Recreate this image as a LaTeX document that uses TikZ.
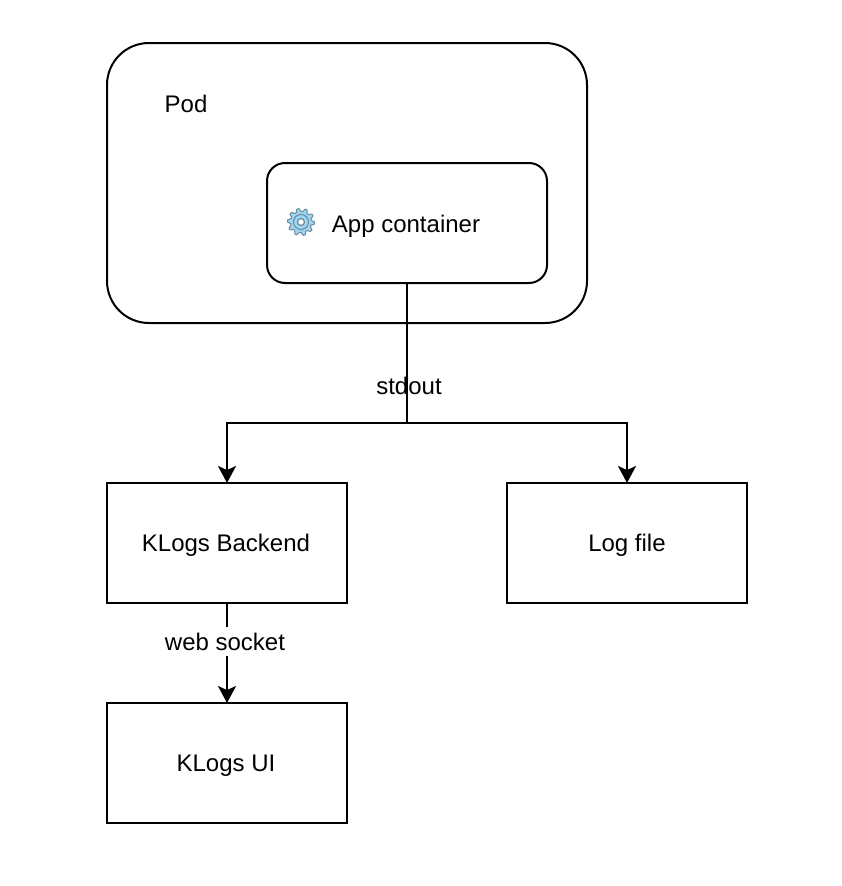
\documentclass[tikz,border=0pt]{standalone}
\usepackage{fontspec}
\setmainfont{Liberation Sans}
\usetikzlibrary{arrows.meta}
\definecolor{gearfill}{HTML}{9BD6F7}
\definecolor{gearline}{HTML}{6F8796}
\tikzset{
  box/.style={draw=black,line width=2pt,minimum width=240pt,minimum height=120pt,inner sep=0pt,outer sep=0pt,text height=17pt,text depth=0pt,font=\fontsize{24pt}{28pt}\selectfont},
  podbox/.style={box,rounded corners=42pt,minimum width=480pt,minimum height=280pt},
  appbox/.style={box,rounded corners=18pt,minimum width=280pt,minimum height=120pt},
  lbl/.style={inner sep=0pt,outer sep=0pt,text height=17pt,text depth=0pt,font=\fontsize{24pt}{28pt}\selectfont},
  conn/.style={draw=black,line width=2pt},
  arr/.style={conn,-{Stealth[length=17pt,width=18pt,inset=4pt]}},
}
\begin{document}
\begin{tikzpicture}[x=1pt,y=-1pt]
\useasboundingbox (0,0) rectangle (842,886);
\node[podbox] (pod) at (347,183) {};
\node[lbl] (podlabel) at (186,103.5) {Pod};
\node[appbox] (app) at (407,223) {};
\node[lbl] (applabel) at (406,223.5) {App container};
\node[box] (backend) at (227,543) {\hspace*{-2pt}KLogs Backend};
\node[box] (logfile) at (627,543) {Log file};
\node[box] (ui) at (227,763) {\hspace*{-2pt}KLogs UI};
\coordinate (split) at (407,423);
\coordinate (gear) at (301,222);
% gear icon
\begin{scope}[shift={(gear)}]
  \draw[draw=gearline,fill=gearfill,line width=1pt,line join=round]
    plot[smooth cycle,tension=0.25] coordinates {
      (0:13.5) (9:13.5) (18:10.5) (27:10.5)
      (36:13.5) (45:13.5) (54:10.5) (63:10.5)
      (72:13.5) (81:13.5) (90:10.5) (99:10.5)
      (108:13.5) (117:13.5) (126:10.5) (135:10.5)
      (144:13.5) (153:13.5) (162:10.5) (171:10.5)
      (180:13.5) (189:13.5) (198:10.5) (207:10.5)
      (216:13.5) (225:13.5) (234:10.5) (243:10.5)
      (252:13.5) (261:13.5) (270:10.5) (279:10.5)
      (288:13.5) (297:13.5) (306:10.5) (315:10.5)
      (324:13.5) (333:13.5) (342:10.5) (351:10.5)};
  \draw[draw=gearline,line width=1pt] (0,0) circle[radius=7.5pt];
  \draw[draw=gearline,fill=white,line width=1.2pt] (0,0) circle[radius=3.5pt];
\end{scope}
\draw[conn] (app.south) -- (split);
\draw[arr] (split) -| (backend.north);
\draw[arr] (split) -| (logfile.north);
\node[lbl] (stdout) at (409,385.5) {stdout};
\draw[arr] (backend.south) -- (ui.north);
\node[lbl,fill=white,minimum height=29pt] (ws) at (225,641.5) {web socket};
\end{tikzpicture}
\end{document}
